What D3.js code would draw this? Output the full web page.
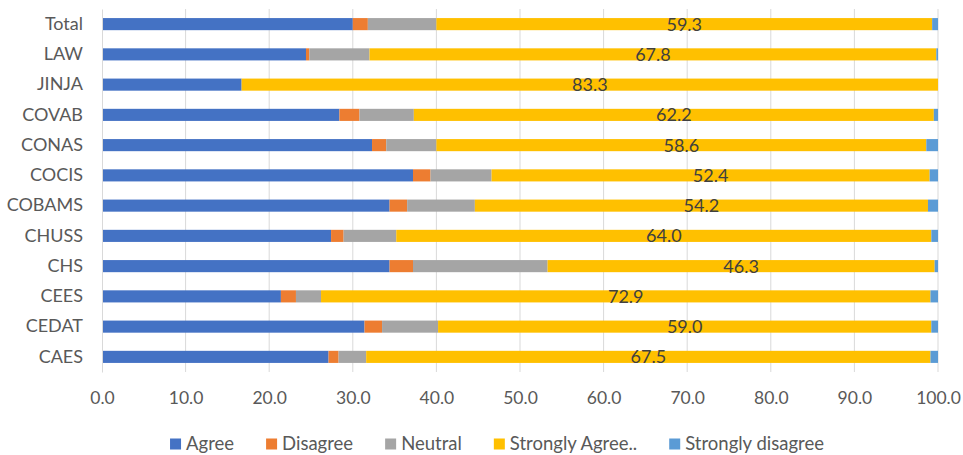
<!DOCTYPE html>
<html>
<head>
<meta charset="utf-8">
<script src="https://cdn.jsdelivr.net/npm/d3@7"></script>
<style>
  html, body { margin: 0; padding: 0; background: #fff; }
  svg { display: block; font-family: Lato, "Open Sans", sans-serif; }
</style>
</head>
<body>
<svg id="chart" width="963" height="455"></svg>
<script>
// Colleges / units, top to bottom
const categories = ["Total", "LAW", "JINJA", "COVAB", "CONAS", "COCIS", "COBAMS", "CHUSS", "CHS", "CEES", "CEDAT", "CAES"];

// Response shares (%) per unit
const agree           = [30.0, 24.4, 16.7, 28.4, 32.3, 37.2, 34.4, 27.4, 34.4, 21.4, 31.4, 27.1];
const disagree        = [ 1.8,  0.4,  0.0,  2.4,  1.7,  2.1,  2.1,  1.5,  2.8,  1.8,  2.1,  1.2];
const neutral         = [ 8.2,  7.2,  0.0,  6.5,  6.0,  7.3,  8.1,  6.3, 16.1,  3.0,  6.7,  3.3];
const stronglyAgree   = [59.3, 67.8, 83.3, 62.2, 58.6, 52.4, 54.2, 64.0, 46.3, 72.9, 59.0, 67.5];
const stronglyDisagree= [ 0.7,  0.2,  0.0,  0.5,  1.4,  1.0,  1.2,  0.8,  0.4,  0.9,  0.8,  0.9];

const seriesNames = ["Agree", "Disagree", "Neutral", "Strongly Agree..", "Strongly disagree"];
const seriesValues = [agree, disagree, neutral, stronglyAgree, stronglyDisagree];
const seriesColors = ["#4472C4", "#ED7D31", "#A5A5A5", "#FFC000", "#5B9BD5"];

const xTicks = [0, 10, 20, 30, 40, 50, 60, 70, 80, 90, 100];

const width = 963, height = 455;
const margin = { top: 9, right: 25, bottom: 83, left: 102 };

const svg = d3.select("#chart");

// Row table for the stack layout
const rows = categories.map((c, i) => {
  const r = { category: c };
  seriesNames.forEach((s, k) => { r[s] = seriesValues[k][i]; });
  return r;
});
const stacked = d3.stack().keys(seriesNames)(rows);

const x = d3.scaleLinear().domain([0, 100]).range([margin.left, width - margin.right]);
const y = d3.scaleBand().domain(categories)
  .range([margin.top, height - margin.bottom])
  .paddingInner(0.6).paddingOuter(0.3);

// Vertical gridlines
svg.append("g")
  .selectAll("line")
  .data(xTicks.slice(1))
  .join("line")
  .attr("x1", d => x(d)).attr("x2", d => x(d))
  .attr("y1", margin.top).attr("y2", height - margin.bottom)
  .attr("stroke", "#d9d9d9").attr("stroke-width", 1);

// Stacked bars
svg.append("g")
  .selectAll("g")
  .data(stacked)
  .join("g")
  .attr("fill", (d, i) => seriesColors[i])
  .selectAll("rect")
  .data(d => d)
  .join("rect")
  .attr("x", d => x(d[0]))
  .attr("y", d => y(d.data.category))
  .attr("width", d => Math.max(0, x(d[1]) - x(d[0])))
  .attr("height", y.bandwidth());

// Value labels centred on the "Strongly Agree" segment
const saLayer = stacked[3];
svg.append("g")
  .selectAll("text")
  .data(saLayer)
  .join("text")
  .attr("x", d => (x(d[0]) + x(d[1])) / 2)
  .attr("y", d => y(d.data.category) + y.bandwidth() / 2)
  .attr("dy", "0.36em")
  .attr("text-anchor", "middle")
  .attr("fill", "#404040")
  .attr("font-size", "18px")
  .text(d => d3.format(".1f")(d[1] - d[0]));

// Category axis (left)
const yAxis = svg.append("g")
  .attr("transform", `translate(${margin.left},0)`)
  .call(d3.axisLeft(y).tickSize(0).tickPadding(19));
yAxis.select(".domain").attr("stroke", "#d9d9d9");
yAxis.selectAll("text").attr("fill", "#595959").attr("font-size", "18px")
  .attr("font-family", "Lato, 'Open Sans', sans-serif");

// Value axis (bottom)
const xAxis = svg.append("g")
  .attr("transform", `translate(0,${height - margin.bottom})`)
  .call(d3.axisBottom(x).tickValues(xTicks).tickFormat(d3.format(".1f")).tickSize(0).tickPadding(20));
xAxis.select(".domain").remove();
xAxis.selectAll("text").attr("fill", "#595959").attr("font-size", "17.5px")
  .attr("font-family", "Lato, 'Open Sans', sans-serif");

// Legend, laid out from the measured text widths and centred
const legend = svg.append("g").attr("transform", "translate(0,444)");
const sw = 11, gapText = 5, gapItem = 32;
let cursor = 0;
seriesNames.forEach((name, i) => {
  const g = legend.append("g");
  g.append("rect").attr("x", 0).attr("y", -sw / 2).attr("width", sw).attr("height", sw)
    .attr("fill", seriesColors[i]);
  const t = g.append("text").attr("x", sw + gapText).attr("dy", "0.35em")
    .attr("fill", "#595959").attr("font-size", "18.5px").text(name);
  const w = sw + gapText + t.node().getComputedTextLength();
  g.attr("transform", `translate(${cursor},0)`);
  cursor += w + gapItem;
});
const legendWidth = cursor - gapItem;
const legendCenter = 497;
legend.attr("transform", `translate(${legendCenter - legendWidth / 2},444)`);
</script>
</body>
</html>
